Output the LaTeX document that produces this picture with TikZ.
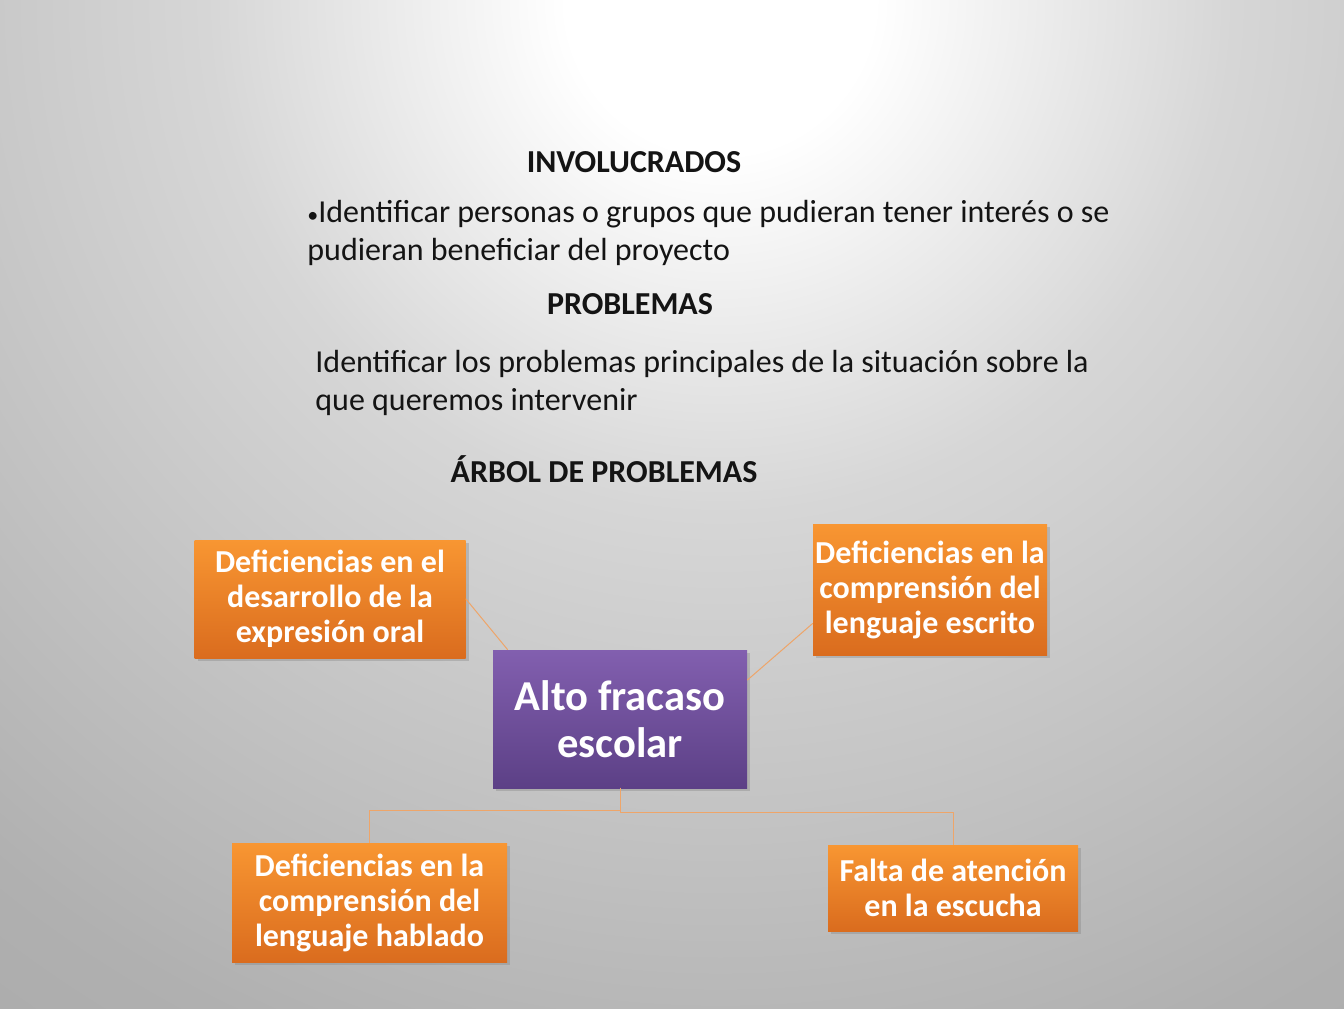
\documentclass[tikz,border=0pt]{standalone}
\usepackage{fontspec}
\setmainfont{Carlito}
\usetikzlibrary{shadows}
\definecolor{naranjaA}{RGB}{248,150,50}
\definecolor{naranjaB}{RGB}{218,108,30}
\definecolor{moradoA}{RGB}{130,95,175}
\definecolor{moradoB}{RGB}{92,64,134}
\definecolor{lineaN}{RGB}{238,165,105}
\definecolor{textoN}{RGB}{20,20,20}
\pgfdeclareradialshading{fondo}{\pgfpoint{0bp}{0bp}}{color(0bp)=(white); color(3bp)=(white); color(10bp)=(black!16); color(22bp)=(black!31); color(50bp)=(black!46)}
\tikzset{
  titulo/.style={font=\bfseries\fontsize{16}{19}\selectfont, text=textoN, inner sep=0pt},
  texto/.style={anchor=west, align=left, text=textoN, inner sep=0pt},
  caja/.style={draw=none, inner sep=0pt, align=center, text=white, drop shadow={shadow xshift=1.5pt, shadow yshift=-1.5pt, opacity=.35}},
  causa/.style={caja, top color=naranjaA, bottom color=naranjaB, font=\bfseries\fontsize{16}{17.5}\selectfont},
  raiz/.style={caja, top color=moradoA, bottom color=moradoB, font=\bfseries\fontsize{21.3}{23.5}\selectfont, minimum width=127pt, minimum height=69pt},
  enlace/.style={draw=lineaN, line width=.5pt}
}
\begin{document}
\begin{tikzpicture}[x=0.5pt, y=-0.5pt, font=\fontsize{16}{19}\selectfont, line join=round, line cap=round]
	\useasboundingbox (0,0) rectangle (1344,1008);
	\begin{scope}
		\clip (0,0) rectangle (1344,1008);
		\shade[shading=fondo] (720,0) circle (640pt);
	\end{scope}
	% textos
	\node[titulo] (inv) at (634,162) {INVOLUCRADOS};
	\node[texto] (invtxt) at (307,233) {{\fontsize{11}{19}\selectfont •}Identificar personas o grupos que pudieran tener interés o se\\pudieran beneficiar del proyecto};
	\node[titulo] (prob) at (630,304) {PROBLEMAS};
	\node[texto] (probtxt) at (315,383) {Identificar los problemas principales de la situación sobre la\\que queremos intervenir};
	\node[titulo] (arbol) at (604,469) {ÁRBOL DE PROBLEMAS};
	% arbol
	\node[causa, minimum width=135.5pt, minimum height=59pt] (oral) at (330,599) {Deficiencias en el\\desarrollo de la\\expresión oral};
	\node[raiz] (fracaso) at (620,719) {Alto fracaso\\escolar};
	\node[causa, minimum width=117pt, minimum height=65.5pt] (escrito) at (930,589.5) {Deficiencias en la\\comprensión del\\lenguaje escrito};
	\node[causa, minimum width=137.5pt, minimum height=59.5pt] (hablado) at (369.5,902.5) {Deficiencias en la\\comprensión del\\lenguaje hablado};
	\node[causa, minimum width=125pt, minimum height=43pt] (escucha) at (953,888) {Falta de atención\\en la escucha};
	\draw[enlace] (oral.east) -- ([xshift=7.5pt]fracaso.north west);
	\draw[enlace] ([yshift=19.5pt]fracaso.east) -- ([yshift=-17pt]escrito.west);
	\draw[enlace] (fracaso.south) -- (620,810) -| (hablado.north);
	\draw[enlace] (fracaso.south) -- (620,812) -| (escucha.north);
\end{tikzpicture}
\end{document}
